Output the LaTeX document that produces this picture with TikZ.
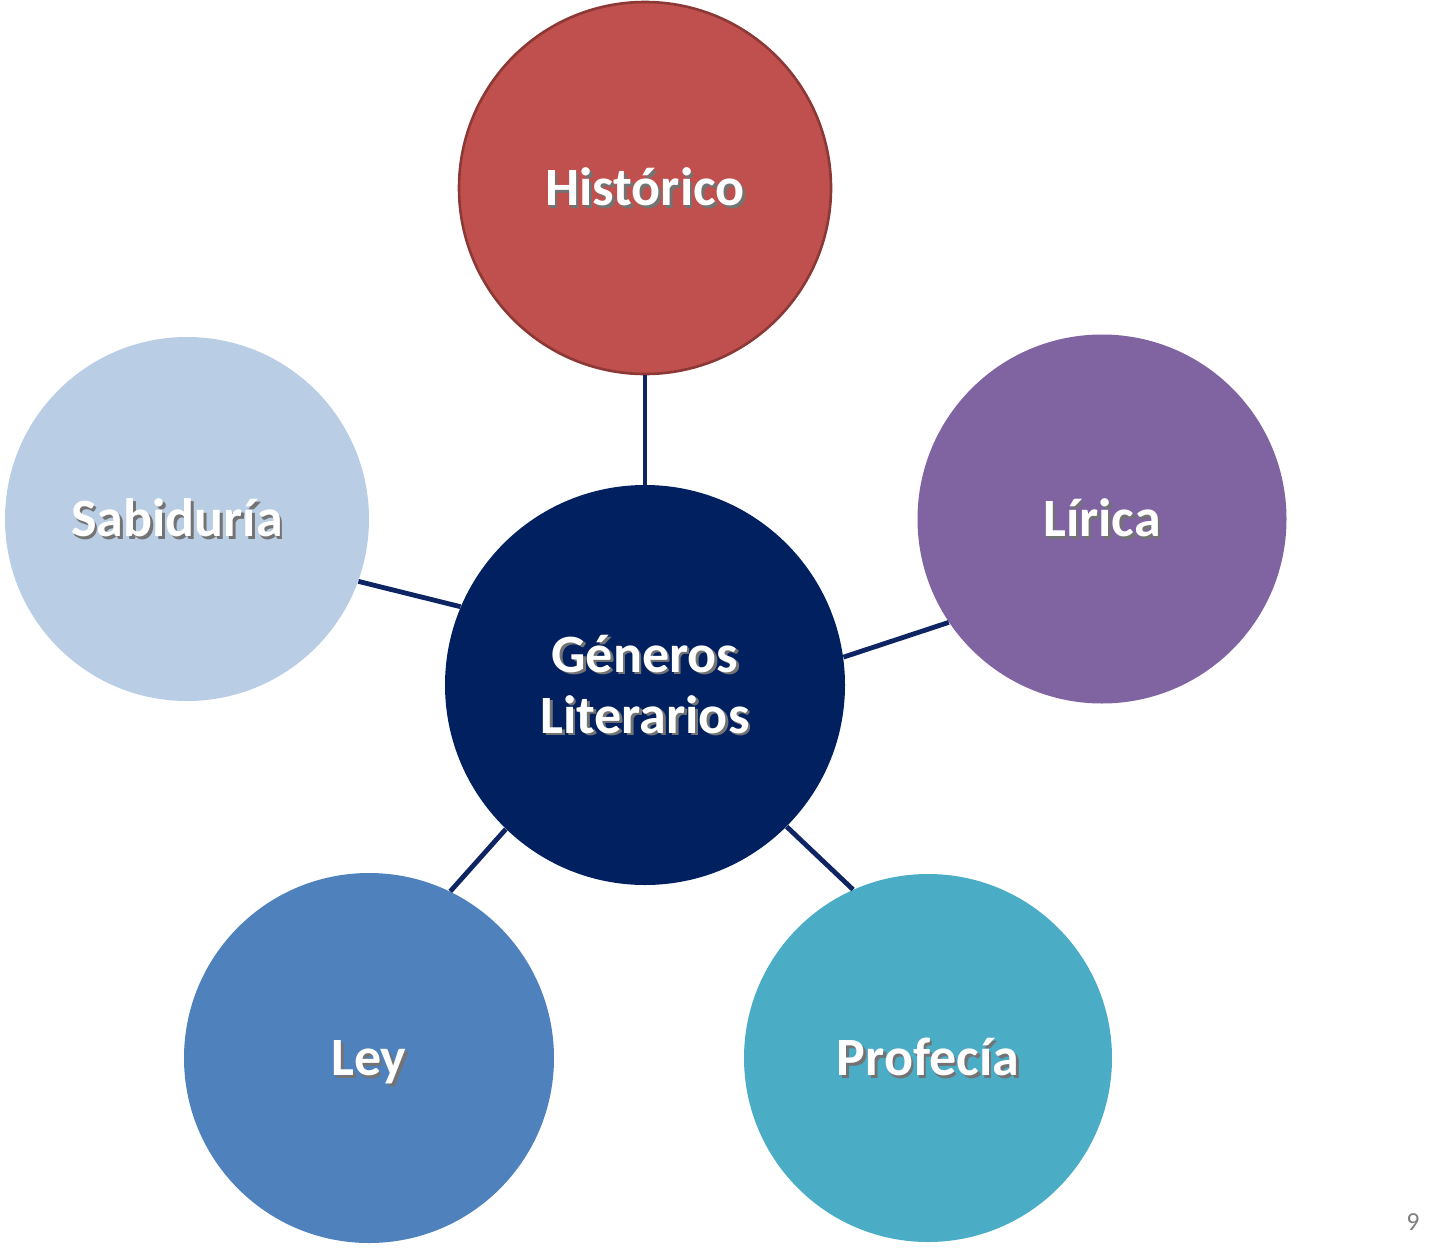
\documentclass[tikz,border=0pt]{standalone}
\usepackage{fontspec}
\setmainfont{Carlito}
\usepackage{tikz}
\usetikzlibrary{positioning}
\definecolor{cHist} {HTML}{C0504D}
\definecolor{cHistD}{HTML}{8C3836}
\definecolor{cLir}  {HTML}{8064A2}
\definecolor{cSab}  {HTML}{B9CDE5}
\definecolor{cLey}  {HTML}{4F81BD}
\definecolor{cPro}  {HTML}{4BACC6}
\definecolor{cGen}  {HTML}{002060}
\definecolor{cLink} {HTML}{0E2463}
% white label with a soft drop shadow, boxed to its cap height
\newcommand\shd[1]{\vphantom{H}\smash{\makebox[0pt][l]{\hspace{1.3pt}%
  \raisebox{-1.3pt}{\textcolor{black!55}{#1}}}#1}}
\tikzset{
  bub/.style  ={circle,inner sep=0pt,align=center,text=white,draw=none,
                font=\fontsize{27}{30.5}\selectfont\bfseries},
  hub/.style  ={bub,fill=cGen,minimum size=200pt},
  hist/.style ={bub,fill=cHist,draw=cHistD,line width=1.3pt,minimum size=186pt},
  lir/.style  ={bub,fill=cLir,minimum size=184.5pt},
  sab/.style  ={bub,fill=cSab,minimum size=182pt},
  ley/.style  ={bub,fill=cLey,minimum size=185pt},
  pro/.style  ={bub,fill=cPro,minimum size=184pt},
  link/.style ={draw=cLink,line width=2.4pt},
  pnum/.style ={font=\fontsize{13}{15}\selectfont,text=black!50,inner sep=0pt},
}

\begin{document}
\begin{tikzpicture}[x=0.5pt, y=-0.5pt]
\useasboundingbox (0,0) rectangle (1440,1258);

% ===== hub and the five genres ==========================================
\node[hub]  (gen) at (645,685)  {\shd{Géneros}\\\shd{Literarios}};
\node[hist] (his) at (645,188)  {\shd{Histórico}};
\node[lir]  (lir) at (1102,519) {\shd{Lírica}};
\node[sab]  (sab) at (187,519)  {\hspace*{-10pt}\shd{Sabiduría}};
\node[ley]  (ley) at (369,1058) {\shd{Ley}};
\node[pro]  (pro) at (928,1058) {\shd{Profecía}};

% ===== spokes (hub angle / genre angle) =================================
\foreach \g/\a/\b in {his/90/270, lir/8.9/214.5, sab/157.4/340.3,
                      ley/226.4/64.9, pro/315.4/114.8}{%
  \draw[link] (gen.\a) -- (\g.\b);
}

% ===== slide number =====================================================
\node[pnum] (pg) at (1413,1222) {9};
\end{tikzpicture}
\end{document}
